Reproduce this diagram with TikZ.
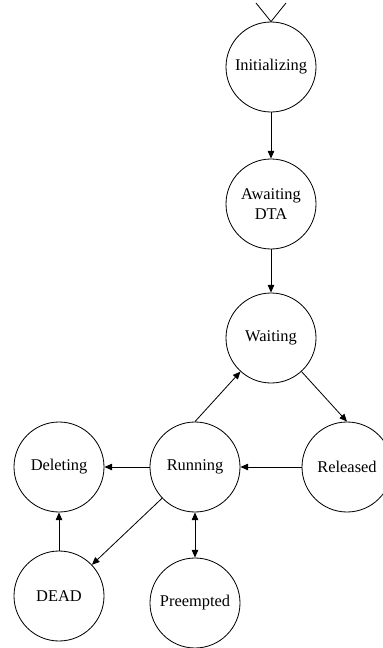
\documentclass[tikz,border=0pt]{standalone}
\usepackage{fontspec}
\setmainfont{Liberation Serif}
\usetikzlibrary{arrows.meta}

\tikzset{
  state/.style={draw, circle, line width=0.7pt, minimum size=2.7cm, inner sep=0pt,
    align=center, font=\fontsize{14}{17}\selectfont},
  trans/.style={line width=0.7pt, -{Triangle[length=6.5pt,width=5.5pt]}},
  twoway/.style={line width=0.7pt, {Triangle[length=6.5pt,width=5.5pt]}-{Triangle[length=6.5pt,width=5.5pt]}},
}

\begin{document}
\begin{tikzpicture}[x=0.03cm, y=-0.03cm]
   \useasboundingbox (0,0) rectangle (382,648);

   % states
   \node[state] (init) at (271,67) {Initializing};
   \node[state] (await) at (271,204) {Awaiting\\DTA};
   \node[state] (wait) at (271,338) {Waiting};
   \node[state] (run) at (195,467) {Running};
   \node[state] (rel) at (347,467) {Released};
   \node[state] (del) at (59,467) {Deleting};
   \node[state] (dead) at (59,596) {DEAD};
   \node[state] (pre) at (195,603) {Preempted};

   % initial marker
   \coordinate (inl) at (256,3);
   \coordinate (inr) at (286,3);
   \draw[line width=0.7pt] (inl) -- (init.north) -- (inr);

   % transitions
   \draw[trans] (init) -- (await);
   \draw[trans] (await) -- (wait);
   \draw[trans] (run.north) -- (wait);
   \draw[trans] (wait) -- (rel.north);
   \draw[trans] (rel) -- (run);
   \draw[trans] (run) -- (del);
   \draw[trans] (run) -- (dead);
   \draw[trans] (dead) -- (del);
   \draw[twoway] (run) -- (pre);

\end{tikzpicture}
\end{document}
